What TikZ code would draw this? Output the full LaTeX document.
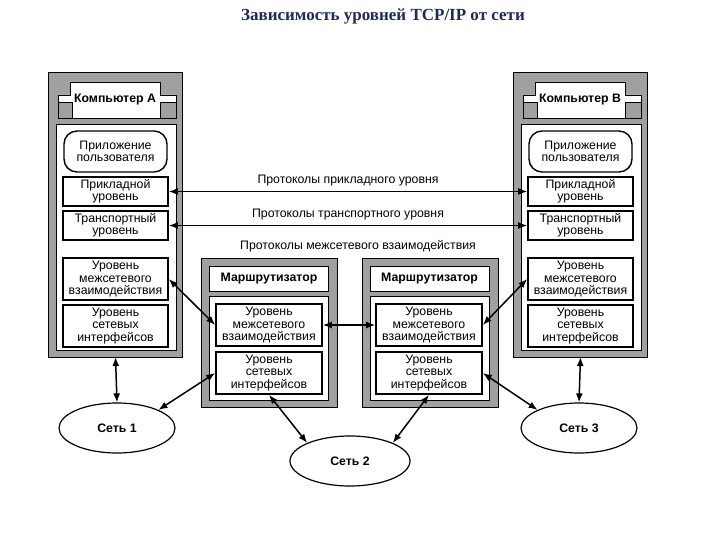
\documentclass[tikz,border=0pt]{standalone}
\usepackage{fontspec}
\setmainfont{Liberation Sans}
\newfontfamily\titlefont{Liberation Serif}
\usetikzlibrary{arrows.meta,shapes.geometric}
\definecolor{panel}{HTML}{A0A0A0}
\definecolor{titlec}{HTML}{1F2A5A}
\begin{document}
\begin{tikzpicture}[x=1pt,y=-1pt,
  gray/.style={draw=black,fill=panel,line width=0.8pt},
  white/.style={draw=black,fill=white,line width=0.6pt},
  lay/.style={draw=black,fill=white,line width=1.6pt,align=center,inner sep=0pt,font=\fontsize{12.3}{12.2}\selectfont},
  hdr/.style={font=\bfseries\fontsize{12.3}{13}\selectfont},
  net/.style={ellipse,draw=black,fill=white,line width=1.2pt,minimum width=116pt,minimum height=50pt,font=\bfseries\fontsize{12.3}{13}\selectfont},
  arr/.style={{Latex[length=9pt,width=7pt]}-{Latex[length=9pt,width=7pt]},line width=1.5pt},
  lbl/.style={font=\fontsize{12.3}{13}\selectfont}]
\useasboundingbox (0,0) rectangle (720,540);
\node[text=titlec,font=\titlefont\bfseries\fontsize{17}{19}\selectfont] (title) at (383,16) {Зависимость уровней TCP/IP от сети};
% computers
\foreach \X in {48,513}{
  \draw[gray] (\X,72) rectangle ++(134,285);
  \draw[white] (\X+10,118) -- (\X+10,95) -- (\X+22,95) -- (\X+22,82) -- (\X+112,82) -- (\X+112,95) -- (\X+128,95) -- (\X+128,118) -- cycle;
  \draw[gray] (\X+10,102) rectangle ++(14,16);
  \draw[gray] (\X+112,102) rectangle ++(16,16);
  \draw[white] (\X+8,124) rectangle ++(120,226);
}
\node[hdr] (hA) at (115,100) {Компьютер А};
\node[hdr] (hB) at (580,100) {Компьютер В};
\foreach \C/\X in {A/115.5,B/580.5}{
  \node[lay,rounded corners=13pt,line width=1.4pt,minimum width=103pt,minimum height=41pt] (app\C) at (\X,151.5) {Приложение\\пользователя};
  \node[lay,minimum width=105pt,minimum height=29pt] (pr\C) at (\X,191.5) {Прикладной\\уровень};
  \node[lay,minimum width=105pt,minimum height=29pt] (tr\C) at (\X,225.5) {Транспортный\\уровень};
  \node[lay,minimum width=105pt,minimum height=42pt] (in\C) at (\X,279) {Уровень\\межсетевого\\взаимодействия};
  \node[lay,minimum width=105pt,minimum height=42pt] (ni\C) at (\X,326) {Уровень\\сетевых\\интерфейсов};
}
\coordinate (bA) at (115.5,357);
\coordinate (bB) at (580.5,357);
% routers
\foreach \X in {201,362}{
  \draw[gray] (\X,258) rectangle ++(136,149);
  \draw[white] (\X+8,266) rectangle ++(119,25);
  \draw[white] (\X+8,296) rectangle ++(119,104);
}
\node[hdr] (r1h) at (269,278.5) {Маршрутизатор};
\node[hdr] (r2h) at (429.5,278.5) {Маршрутизатор};
\foreach \R/\X in {1/269,2/429}{
  \node[lay,minimum width=106pt,minimum height=42pt] (rin\R) at (\X,325) {Уровень\\межсетевого\\взаимодействия};
  \node[lay,minimum width=106pt,minimum height=42pt] (rni\R) at (\X,373) {Уровень\\сетевых\\интерфейсов};
}
% networks
\node[net] (n1) at (117,428) {Сеть 1};
\node[net] (n3) at (579,428) {Сеть 3};
\node[net,minimum width=120pt] (n2) at (350,461) {Сеть 2};
% arrows
\draw[arr] (prA.east) -- (prB.west) node[lbl,midway,above=1pt] (l1) {Протоколы прикладного уровня};
\draw[arr] (trA.east) -- (trB.west) node[lbl,midway,above=1pt] (l2) {Протоколы транспортного уровня};
\node[lbl] (l3) at (358,246) {Протоколы межсетевого взаимодействия};
\draw[arr] (inA.east) -- (rin1.west);
\draw[arr] (rin1.east) -- (rin2.west);
\draw[arr] (rin2.east) -- (inB.west);
\draw[arr] (bA) -- (n1.north);
\draw[arr] (bB) -- (n3.north);
\draw[arr] (n1.north east) -- (rni1.west);
\draw[arr] (rni2.east) -- (n3.north west);
\draw[arr] (rni1.south) -- (n2.north west);
\draw[arr] (rni2.south) -- (n2.north east);
\end{tikzpicture}
\end{document}
